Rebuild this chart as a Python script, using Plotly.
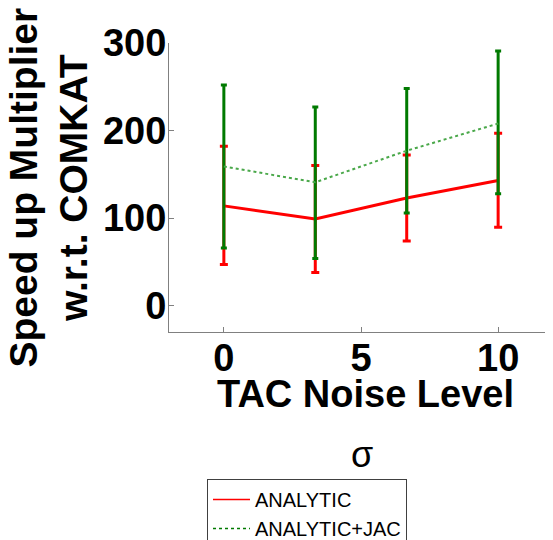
import plotly.graph_objects as go

noise = [0, 3.333, 6.667, 10]
analytic = [114, 99, 123, 143]
analytic_plus = [68, 61, 49, 54]
analytic_minus = [67, 61, 49, 53.5]
jac = [159, 141, 177, 208]
jac_plus = [93, 86, 71, 83]
jac_minus = [93, 87, 71, 80]

FONT = "Liberation Sans, Arial, sans-serif"
RED = "#ff0000"
GREEN = "#007a00"

fig = go.Figure()
fig.add_trace(go.Scatter(
    x=noise, y=analytic, mode="lines", name="ANALYTIC", showlegend=False,
    line=dict(color=RED, width=3),
    error_y=dict(type="data", symmetric=False, array=analytic_plus,
                 arrayminus=analytic_minus, color=RED, thickness=3, width=4),
))
fig.add_trace(go.Scatter(
    x=noise, y=jac, mode="lines", name="ANALYTIC+JAC", showlegend=False,
    line=dict(color="#4aa84a", width=2, dash="dot"),
    error_y=dict(type="data", symmetric=False, array=jac_plus,
                 arrayminus=jac_minus, color=GREEN, thickness=3, width=3),
))
# legend entries (thin line samples as in the reference)
fig.add_trace(go.Scatter(x=[None], y=[None], mode="lines", name="ANALYTIC",
                         line=dict(color=RED, width=1.5)))
fig.add_trace(go.Scatter(x=[None], y=[None], mode="lines", name="ANALYTIC+JAC",
                         line=dict(color=GREEN, width=1.5, dash="dot")))

OFF = 8  # page body margin
W, H = 553 - OFF, 540 - OFF
L, T, B, R = 169, 43, 332, 553
pw, ph = R - L, B - T

def px(xp):
    return (xp - L) / pw

def py(yp):
    return (B - yp) / ph

fig.update_layout(
    width=W, height=H,
    margin=dict(l=L - OFF, r=0, t=T - OFF, b=(H + OFF) - B, pad=0, autoexpand=False),
    paper_bgcolor="white", plot_bgcolor="white",
    font=dict(family=FONT, color="black"),
    showlegend=True,
    legend=dict(
        x=px(207), y=py(479), xanchor="left", yanchor="top",
        bordercolor="#404040", borderwidth=1, bgcolor="white",
        font=dict(family=FONT, size=20, color="black"),
        tracegroupgap=0, itemwidth=37,
    ),
    xaxis=dict(
        range=[-2, 12], tickvals=[0, 5, 10], ticktext=["0", "5", "10"],
        automargin=False, ticklabelstandoff=-8,
        showgrid=False, zeroline=False, showline=True, linecolor="#808080",
        linewidth=1, ticks="inside", ticklen=5, tickcolor="#808080",
        tickfont=dict(family=FONT, size=38, color="black", weight="bold"),
    ),
    yaxis=dict(
        range=[-30, 300], tickvals=[0, 100, 200, 300],
        automargin=False, ticklabelstandoff=-6,
        showgrid=False, zeroline=False, showline=True, linecolor="#808080",
        linewidth=1, ticks="inside", ticklen=5, tickcolor="#808080",
        tickfont=dict(family=FONT, size=38, color="black", weight="bold"),
    ),
    annotations=[
        dict(text="<b>Speed up Multiplier</b><br><b>w.r.t. COMKAT</b>",
             xref="paper", yref="paper", x=px(48), y=py(187.5),
             xanchor="center", yanchor="middle", textangle=-90, showarrow=False,
             font=dict(family=FONT, size=39, color="black")),
        dict(text="<b>TAC Noise Level</b>", xref="paper", yref="paper",
             x=px(365), y=py(394), xanchor="center", yanchor="middle",
             showarrow=False, font=dict(family=FONT, size=38, color="black")),
        dict(text="σ", xref="paper", yref="paper",
             x=px(362), y=py(454), xanchor="center", yanchor="middle",
             showarrow=False, font=dict(family=FONT, size=36, color="black")),
    ],
)

fig.write_html("out.html")
